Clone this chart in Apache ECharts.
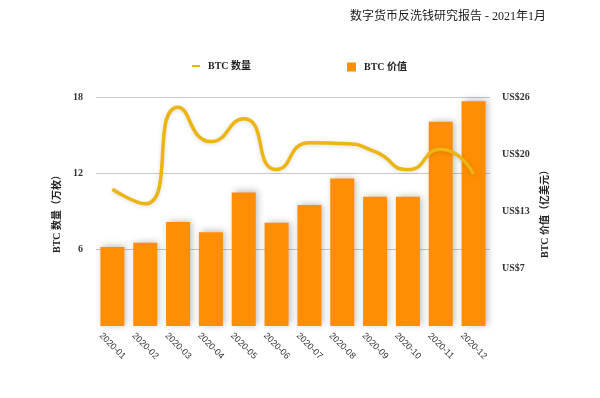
<!DOCTYPE html>
<html><head><meta charset="utf-8">
<script src="https://cdn.jsdelivr.net/npm/echarts@6/dist/echarts.min.js"></script>
<style>html,body{margin:0;padding:0;background:#fff}#c{width:600px;height:398px}</style>
</head><body><div id="c"></div>
<script>
var months = ['2020-01','2020-02','2020-03','2020-04','2020-05','2020-06','2020-07','2020-08','2020-09','2020-10','2020-11','2020-12'];
var btcCount = [10.75, 9.6, 17.2, 14.5, 16.3, 12.3, 14.4, 14.35, 13.7, 12.3, 13.9, 11.95];
var btcValue = [9.1, 9.6, 12.0, 10.8, 15.4, 11.9, 13.95, 17.0, 14.9, 14.9, 23.55, 25.9];
var leftTicks = {min: 0, max: 18, interval: 6};
var rightTicks = {min: 0, max: 26.4, interval: 6.6};

var serif = '"Liberation Serif","DejaVu Serif","Noto Sans CJK SC",serif';
var chart = echarts.init(document.getElementById('c'));
chart.setOption({
  animation: false,
  backgroundColor: '#fff',
  title: {
    text: '数字货币反洗钱研究报告 - 2021年1月',
    left: 345, top: 6,
    textStyle: {fontFamily: serif, fontSize: 12, fontWeight: 'normal', color: '#1a1a1a'}
  },
  legend: [
    {data: ['BTC 数量'], left: 187, top: 56, icon: 'rect', itemWidth: 8, itemHeight: 2,
     textStyle: {fontFamily: serif, fontSize: 10, fontWeight: 'bold', color: '#222', padding: [0,0,0,3]}},
    {data: ['BTC 价值'], left: 342, top: 57, icon: 'rect', itemWidth: 9, itemHeight: 9,
     textStyle: {fontFamily: serif, fontSize: 10, fontWeight: 'bold', color: '#222', padding: [0,0,0,3]}}
  ],
  grid: {left: 96, right: 110, top: 97, bottom: 72},
  xAxis: {
    type: 'category', data: months,
    axisLine: {show: false}, axisTick: {show: false},
    axisLabel: {rotate: -45, align: 'center', verticalAlign: 'middle', margin: 20, fontSize: 9,
      color: '#333', fontFamily: '"Liberation Sans",Arial,sans-serif', interval: 0}
  },
  yAxis: [
    {type: 'value', min: leftTicks.min, max: leftTicks.max, interval: leftTicks.interval,
     name: 'BTC 数量（万枚）', nameLocation: 'middle', nameGap: 30,
     nameTextStyle: {fontFamily: serif, fontSize: 10, fontWeight: 'bold', color: '#222'},
     axisLabel: {showMinLabel: false, margin: 13, fontFamily: serif, fontSize: 10, fontWeight: 'bold', color: '#333'},
     splitLine: {lineStyle: {color: ['rgba(0,0,0,0)', '#c8c8c8', '#c8c8c8', '#c8c8c8'], width: 1}}},
    {type: 'value', min: rightTicks.min, max: rightTicks.max, interval: rightTicks.interval,
     name: 'BTC 价值（亿美元）', nameLocation: 'middle', nameGap: 41, nameRotate: 90,
     nameTextStyle: {fontFamily: serif, fontSize: 10, fontWeight: 'bold', color: '#222'},
     axisLabel: {showMinLabel: false, margin: 12, fontFamily: serif, fontSize: 10, fontWeight: 'bold', color: '#333',
       formatter: function (v) { return 'US$' + Math.round(v); }},
     splitLine: {show: false}}
  ],
  series: [
    {name: 'BTC 价值', type: 'bar', yAxisIndex: 1, data: btcValue, barWidth: 24, z: 1,
     itemStyle: {color: '#FF8E05', shadowColor: 'rgba(0,0,0,0.28)', shadowBlur: 7, shadowOffsetX: 2, shadowOffsetY: -1}},
    {name: 'BTC 数量', type: 'line', yAxisIndex: 0, data: btcCount, smooth: 0.6, showSymbol: false, z: 3,
     itemStyle: {color: '#EDB512'},
     lineStyle: {color: '#EDB512', width: 3.5, shadowColor: 'rgba(0,0,0,0.15)', shadowBlur: 4, shadowOffsetY: 1}}
  ]
});
</script></body></html>
